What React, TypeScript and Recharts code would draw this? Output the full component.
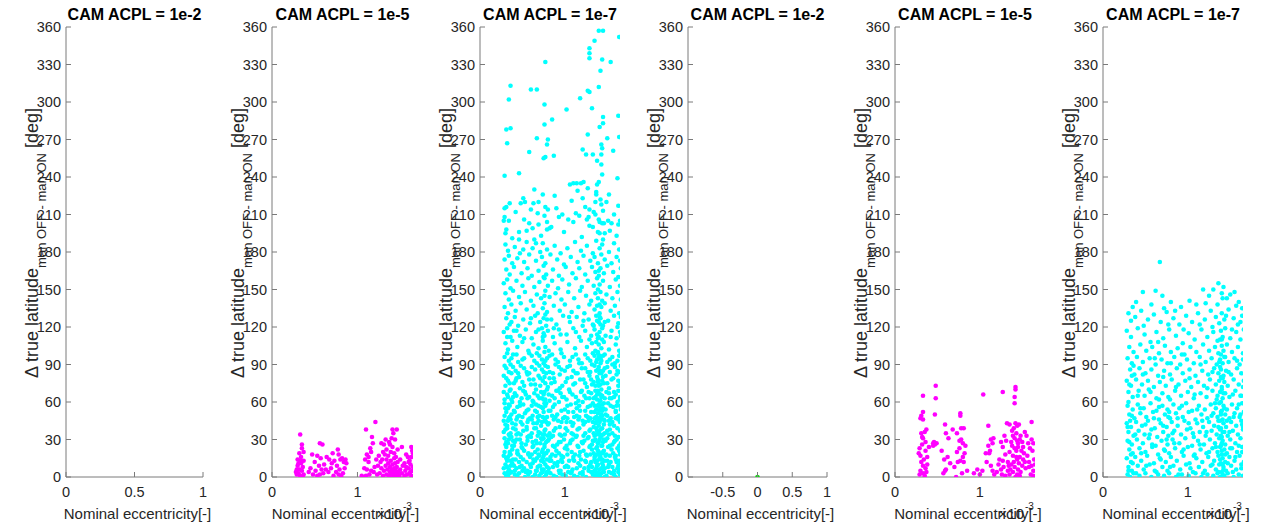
import React from "react";
import { ScatterChart, Scatter, XAxis, YAxis } from "recharts";

type Pt = [number, number];

// ---- labels / ticks ----
const titles = [
  "CAM ACPL = 1e-2",
  "CAM ACPL = 1e-5",
  "CAM ACPL = 1e-7",
  "CAM ACPL = 1e-2",
  "CAM ACPL = 1e-5",
  "CAM ACPL = 1e-7",
];
const yTicks = [0, 30, 60, 90, 120, 150, 180, 210, 240, 270, 300, 330, 360];
const ticksUnit = [0, 0.5, 1];
const ticksSym = [-0.5, 0, 0.5, 1];
const ticksEcc = [0, 1];

// ---- data: [nominal eccentricity x1e-3, delta true latitude deg] ----
const set1Acpl2: Pt[] = [];

const set1Acpl5: Pt[] = [
  [0.33,34],[0.35,26],[0.35,23],[0.37,20],[0.30,14],[0.33,13],[0.29,6],[0.32,6],[0.35,5],[0.31,3],[0.33,1],[0.37,2],[0.37,13],[0.34,11],[0.30,9],[0.29,2],[0.36,8],[0.31,11],[0.34,16],[0.28,4],[0.32,19],[0.36,1],
  [0.47,18],[0.51,5],[0.53,1],[0.56,2],[0.56,27],[0.59,26],[0.57,15],[0.61,10],[0.63,6],[0.60,3],[0.45,7],[0.48,2],[0.43,4],[0.55,9],[0.50,12],[0.58,6],[0.53,17],
  [0.67,14],[0.70,11],[0.66,4],[0.72,1],[0.75,4],[0.77,22],[0.78,18],[0.80,14],[0.82,15],[0.76,9],[0.79,6],[0.83,3],[0.85,7],[0.86,14],[0.87,11],[0.69,7],[0.73,13],[0.81,1],[0.84,12],[0.64,16],[0.78,2],[0.71,19],
  [1.07,0],[1.10,1],[1.10,38],[1.11,18],[1.09,14],[1.13,12],[1.15,23],[1.17,32],[1.16,20],[1.11,6],[1.16,5],[1.19,4],[1.21,44],[1.22,14],[1.24,9],[1.28,27],[1.31,26],[1.33,30],[1.37,28],[1.30,20],[1.32,18],[1.34,14],[1.41,38],[1.46,38],[1.42,35],[1.40,31],[1.44,30],[1.57,18],[1.59,16],[1.61,13],[1.63,16],[1.64,21],[1.63,24],[1.65,19],
  [1.26,3],[1.28,7],[1.30,1],[1.31,5],[1.33,9],[1.34,2],[1.35,6],[1.36,11],[1.37,1],[1.38,4],[1.38,8],[1.39,13],[1.40,2],[1.40,6],[1.41,10],[1.42,1],[1.42,4],[1.43,7],[1.43,15],[1.44,3],[1.44,11],[1.45,1],[1.45,5],[1.46,8],[1.47,2],[1.47,12],[1.48,4],[1.49,1],[1.50,6],[1.52,3],[1.53,9],[1.55,1],[1.56,5],[1.58,2],[1.60,7],[1.61,3],[1.62,10],[1.63,1],[1.64,5],[1.65,8],
  [1.36,17],[1.39,20],[1.41,24],[1.43,19],[1.38,26],[1.45,16],[1.34,22],[1.27,12],[1.23,2],[1.20,8],[1.14,2],[1.13,16],[1.18,27],[1.05,1],[1.08,7],[1.25,17],[1.29,14],[1.47,22],[1.50,14],[1.52,24],[1.55,11],[1.57,8],[1.60,12],[1.62,4],
];

const set1Acpl7: Pt[] = [
  // sparse upper part
  [1.40,357],[1.45,357],[1.64,352],[1.35,349],[1.29,343],[1.29,339],[1.29,335],[1.44,334],[0.77,332],[1.54,332],[1.42,325],[0.36,313],[0.60,310],[0.67,310],[1.27,309],[1.29,308],[1.40,312],[0.34,302],[1.18,303],[0.76,298],[1.02,294],[1.32,295],[1.45,288],[1.45,283],[1.41,280],[1.63,289],[0.31,278],[0.36,279],[0.32,267],[0.85,286],[0.76,282],[0.67,271],[0.80,270],[0.79,266],[1.27,274],[1.50,271],[1.64,272],[0.58,260],[1.21,262],[1.25,258],[1.33,258],[1.43,258],[1.44,263],[1.43,266],[0.75,255],[0.77,256],[0.87,257],[1.57,261],[1.38,253],[1.43,250],[0.29,241],[0.46,243],[1.44,242],[1.62,239],[1.06,234],[1.10,235],[1.14,235],[1.19,235],[1.40,236],[1.38,234],
  [0.29,215],[0.31,216],[0.35,219],[0.29,208],[0.28,205],[0.31,198],[0.51,223],[0.53,220],[0.48,219],[0.63,219],[0.69,220],[0.74,226],[0.77,216],[0.80,214],[0.68,211],[0.52,206],[0.58,203],[0.62,199],[0.69,202],[0.79,204],[0.82,199],[0.79,198],[0.46,196],[0.46,190],[0.51,182],[0.64,190],[0.66,187],
  [0.93,208],[0.97,210],[1.04,206],[1.08,221],[1.15,229],[1.13,211],[1.17,209],[1.21,223],[1.27,231],[1.37,228],[1.37,226],[1.36,220],[1.42,222],[1.43,218],[1.29,214],[1.28,208],[1.26,206],[1.29,201],[1.36,210],[1.40,206],[1.41,204],[1.44,203],[1.45,213],[1.46,203],[1.51,205],[1.55,203],[1.63,202],[1.47,195],[1.41,195],[1.53,197],[1.63,217],
  [0.30,195],[0.34,205],[0.38,191],[0.42,212],[0.55,197],[0.60,214],[0.72,193],[0.76,209],[0.84,200],[0.90,215],[0.99,196],[1.10,204],[1.20,192],[1.24,216],[1.33,200],[1.39,196],[1.45,190],[1.49,220],[1.58,210],[1.61,193],[1.65,205],[1.34,212],[0.64,230],[0.88,225],[1.22,236],[1.52,226],
  // middle part
  [0.30,186],[0.33,181],[0.41,184],[0.47,179],[0.55,188],[0.62,183],[0.71,180],[0.74,187],[0.79,182],[0.88,185],[0.95,179],[1.03,183],[1.12,188],[1.19,181],[1.26,185],[1.33,179],[1.37,189],[1.41,183],[1.44,186],[1.52,180],[1.58,187],[1.64,182],
  [0.29,174],[0.34,177],[0.38,171],[0.44,175],[0.52,172],[0.58,178],[0.66,173],[0.73,176],[0.77,171],[0.83,178],[0.91,174],[0.99,170],[1.07,176],[1.15,172],[1.22,177],[1.30,173],[1.35,176],[1.39,171],[1.43,178],[1.47,174],[1.55,171],[1.61,176],[1.65,173],
  [0.31,166],[0.35,162],[0.40,168],[0.49,163],[0.56,167],[0.61,161],[0.69,165],[0.75,169],[0.78,162],[0.86,166],[0.93,161],[1.01,168],[1.09,163],[1.17,167],[1.24,162],[1.32,168],[1.36,164],[1.40,161],[1.42,167],[1.46,163],[1.50,169],[1.57,164],[1.63,160],[1.66,167],
  [0.28,155],[0.32,158],[0.36,151],[0.43,157],[0.50,153],[0.57,159],[0.64,152],[0.70,156],[0.76,159],[0.80,153],[0.85,157],[0.92,151],[0.97,158],[1.05,154],[1.13,159],[1.20,152],[1.27,157],[1.34,153],[1.38,159],[1.41,154],[1.45,157],[1.53,152],[1.60,158],[1.65,153],
  [0.30,147],[0.34,142],[0.39,149],[0.46,144],[0.53,148],[0.60,141],[0.67,146],[0.72,143],[0.77,149],[0.82,144],[0.89,147],[0.96,142],[1.04,148],[1.11,143],[1.18,149],[1.25,145],[1.31,141],[1.36,147],[1.39,143],[1.42,148],[1.44,141],[1.49,146],[1.56,143],[1.62,148],[1.66,142],
  [0.29,136],[0.33,131],[0.37,138],[0.42,133],[0.48,139],[0.55,134],[0.63,137],[0.68,131],[0.74,135],[0.76,139],[0.79,132],[0.87,137],[0.94,133],[1.00,138],[1.08,132],[1.16,136],[1.23,131],[1.29,138],[1.35,134],[1.38,137],[1.41,131],[1.43,136],[1.47,139],[1.54,133],[1.59,137],[1.64,131],
  [0.31,127],[0.35,122],[0.41,128],[0.45,121],[0.51,126],[0.59,123],[0.65,129],[0.71,124],[0.75,127],[0.78,121],[0.84,126],[0.90,122],[0.98,129],[1.06,124],[1.14,128],[1.21,121],[1.28,126],[1.33,122],[1.37,129],[1.40,124],[1.42,127],[1.45,121],[1.51,125],[1.58,129],[1.63,123],[1.66,128],
  [0.28,116],[0.32,119],[0.36,112],[0.40,117],[0.47,113],[0.54,118],[0.61,111],[0.66,116],[0.73,119],[0.76,113],[0.80,117],[0.86,112],[0.93,118],[1.02,114],[1.10,119],[1.17,112],[1.24,117],[1.31,113],[1.35,118],[1.39,111],[1.41,116],[1.44,119],[1.48,113],[1.55,117],[1.61,111],[1.65,116],
  [0.30,107],[0.33,102],[0.38,109],[0.44,104],[0.50,108],[0.57,101],[0.63,106],[0.69,103],[0.74,109],[0.77,104],[0.81,101],[0.88,107],[0.95,102],[1.03,108],[1.12,103],[1.19,109],[1.26,104],[1.32,107],[1.36,101],[1.40,106],[1.43,103],[1.46,108],[1.52,102],[1.60,106],[1.64,101],
  [0.32,112],[0.37,124],[0.43,117],[0.52,111],[0.60,127],[0.69,118],[0.74,112],[0.79,126],[0.87,119],[0.95,114],[1.05,128],[1.13,116],[1.22,125],[1.29,110],[1.34,121],[1.38,114],[1.41,128],[1.44,110],[1.47,124],[1.54,112],[1.62,120],[1.66,113],
  // dense lower part
  [0.29,96],[0.34,93],[0.39,98],[0.45,92],[0.52,95],[0.58,99],[0.64,93],[0.70,97],[0.75,91],[0.79,95],[0.85,98],[0.92,92],[0.99,96],[1.06,93],[1.13,98],[1.20,91],[1.27,95],[1.33,99],[1.37,92],[1.40,96],[1.43,93],[1.47,98],[1.53,94],[1.59,91],[1.64,97],
  [0.32,99],[0.37,95],[0.43,98],[0.50,94],[0.61,97],[0.67,99],[0.73,94],[0.82,97],[0.89,94],[0.96,99],[1.09,96],[1.16,94],[1.24,98],[1.30,93],[1.35,97],[1.39,99],[1.42,95],[1.45,97],[1.50,92],[1.56,96],[1.62,93],[1.66,99],
  [0.31,87],[0.36,90],[0.42,85],[0.48,89],[0.55,84],[0.61,88],[0.67,91],[0.73,86],[0.77,89],[0.82,84],[0.89,90],[0.96,86],[1.03,88],[1.10,85],[1.17,91],[1.24,87],[1.30,84],[1.35,89],[1.39,86],[1.42,91],[1.45,85],[1.50,88],[1.56,90],[1.62,85],[1.66,89],
  [0.29,89],[0.34,84],[0.39,88],[0.45,83],[0.52,87],[0.58,83],[0.65,86],[0.70,89],[0.75,84],[0.80,88],[0.86,83],[0.93,88],[1.00,85],[1.06,89],[1.13,83],[1.20,87],[1.27,84],[1.32,90],[1.37,85],[1.40,88],[1.43,83],[1.47,87],[1.53,84],[1.59,88],[1.64,84],
  [0.28,81],[0.33,77],[0.37,83],[0.43,79],[0.50,76],[0.56,82],[0.63,78],[0.69,81],[0.74,77],[0.78,83],[0.87,79],[0.94,82],[1.01,76],[1.08,80],[1.15,83],[1.22,78],[1.29,81],[1.34,76],[1.38,80],[1.41,83],[1.44,77],[1.48,81],[1.55,78],[1.61,82],[1.65,76],
  [0.31,79],[0.35,75],[0.42,77],[0.46,80],[0.52,73],[0.58,78],[0.65,74],[0.71,79],[0.77,75],[0.82,79],[0.88,76],[0.94,71],[1.03,79],[1.10,74],[1.18,78],[1.24,75],[1.31,78],[1.36,73],[1.39,78],[1.42,74],[1.45,80],[1.50,75],[1.57,79],[1.63,77],
  [0.30,73],[0.35,69],[0.40,75],[0.47,71],[0.53,68],[0.60,74],[0.66,70],[0.71,73],[0.76,68],[0.80,72],[0.84,75],[0.90,69],[0.97,73],[1.05,70],[1.12,75],[1.19,68],[1.26,72],[1.32,74],[1.36,69],[1.40,73],[1.43,70],[1.46,75],[1.52,71],[1.58,68],[1.63,73],
  [0.28,68],[0.33,64],[0.36,70],[0.43,65],[0.51,69],[0.58,64],[0.64,67],[0.70,63],[0.75,66],[0.79,70],[0.85,65],[0.92,69],[0.99,64],[1.06,68],[1.13,64],[1.20,69],[1.25,63],[1.31,67],[1.36,64],[1.39,69],[1.42,66],[1.47,63],[1.52,67],[1.58,64],[1.63,69],
  [0.32,66],[0.37,62],[0.41,67],[0.49,63],[0.54,66],[0.62,61],[0.68,65],[0.72,68],[0.77,62],[0.81,66],[0.88,63],[0.95,67],[1.02,62],[1.09,66],[1.16,61],[1.23,65],[1.28,68],[1.34,63],[1.38,66],[1.41,61],[1.44,65],[1.49,68],[1.55,63],[1.60,66],[1.65,62],
  [0.29,59],[0.33,55],[0.38,60],[0.44,56],[0.51,58],[0.57,54],[0.63,60],[0.69,57],[0.74,55],[0.78,59],[0.86,56],[0.93,60],[1.00,54],[1.07,58],[1.14,55],[1.21,60],[1.27,56],[1.33,59],[1.37,54],[1.40,58],[1.42,61],[1.45,55],[1.51,59],[1.57,56],[1.62,60],[1.66,54],
  [0.30,55],[0.35,57],[0.41,52],[0.47,57],[0.55,53],[0.61,57],[0.67,52],[0.72,56],[0.76,59],[0.81,53],[0.88,58],[0.96,53],[1.03,57],[1.10,52],[1.17,57],[1.24,53],[1.30,57],[1.35,52],[1.38,57],[1.41,53],[1.44,58],[1.48,54],[1.54,57],[1.60,53],[1.65,57],
  [0.31,52],[0.35,48],[0.40,53],[0.46,49],[0.53,51],[0.59,47],[0.65,53],[0.70,49],[0.75,52],[0.79,48],[0.83,53],[0.91,50],[0.98,47],[1.04,52],[1.11,48],[1.18,53],[1.25,49],[1.31,52],[1.35,47],[1.39,51],[1.42,48],[1.44,53],[1.48,50],[1.54,47],[1.60,52],[1.64,49],
  [0.29,49],[0.33,45],[0.37,50],[0.43,46],[0.50,48],[0.56,44],[0.62,49],[0.69,45],[0.74,48],[0.78,44],[0.85,49],[0.92,45],[1.00,48],[1.07,44],[1.14,49],[1.21,45],[1.27,48],[1.33,44],[1.37,48],[1.40,45],[1.43,50],[1.46,46],[1.50,49],[1.56,44],[1.62,48],[1.66,45],
  [0.28,45],[0.32,41],[0.36,46],[0.42,42],[0.48,44],[0.55,40],[0.61,46],[0.67,43],[0.72,41],[0.76,45],[0.80,42],[0.87,46],[0.94,40],[1.02,44],[1.09,41],[1.16,46],[1.22,42],[1.28,45],[1.34,40],[1.37,44],[1.40,41],[1.43,46],[1.46,42],[1.52,45],[1.58,41],[1.63,46],
  [0.30,42],[0.34,47],[0.38,43],[0.44,48],[0.50,42],[0.57,46],[0.63,43],[0.68,48],[0.73,44],[0.77,47],[0.81,43],[0.89,48],[0.96,44],[1.03,47],[1.10,43],[1.17,48],[1.24,44],[1.30,47],[1.36,43],[1.39,47],[1.41,44],[1.44,49],[1.47,45],[1.53,42],[1.60,47],[1.65,44],
  [0.30,38],[0.34,34],[0.39,39],[0.45,35],[0.51,37],[0.58,33],[0.64,39],[0.69,36],[0.74,34],[0.77,38],[0.82,35],[0.89,39],[0.96,33],[1.03,37],[1.10,34],[1.17,39],[1.24,35],[1.30,38],[1.35,33],[1.38,37],[1.41,34],[1.44,39],[1.47,35],[1.53,38],[1.59,33],[1.65,37],
  [0.28,36],[0.32,39],[0.36,35],[0.42,38],[0.48,34],[0.55,38],[0.61,35],[0.66,39],[0.71,35],[0.76,37],[0.80,33],[0.87,37],[0.94,34],[1.01,39],[1.08,35],[1.15,38],[1.22,33],[1.29,37],[1.34,35],[1.37,39],[1.40,36],[1.42,38],[1.45,34],[1.50,37],[1.56,35],[1.62,39],
  [0.29,31],[0.33,27],[0.37,32],[0.41,28],[0.47,30],[0.54,26],[0.60,32],[0.66,29],[0.71,27],[0.75,31],[0.78,28],[0.84,32],[0.91,26],[0.99,30],[1.06,27],[1.13,32],[1.20,28],[1.27,31],[1.32,26],[1.36,30],[1.39,27],[1.42,32],[1.45,28],[1.50,31],[1.56,26],[1.61,30],[1.66,27],
  [0.31,28],[0.35,33],[0.39,29],[0.43,34],[0.49,27],[0.56,32],[0.62,28],[0.68,33],[0.73,30],[0.76,34],[0.80,29],[0.86,33],[0.93,28],[1.00,34],[1.07,29],[1.14,33],[1.21,27],[1.28,32],[1.33,29],[1.37,34],[1.40,28],[1.43,33],[1.46,30],[1.52,34],[1.58,28],[1.63,32],
  [0.30,26],[0.34,30],[0.38,25],[0.43,30],[0.49,24],[0.56,29],[0.62,24],[0.67,27],[0.72,31],[0.76,26],[0.81,30],[0.88,24],[0.95,28],[1.02,25],[1.09,30],[1.16,24],[1.23,29],[1.30,25],[1.35,29],[1.38,24],[1.41,30],[1.44,25],[1.48,29],[1.53,25],[1.59,29],[1.64,25],
  [0.31,24],[0.35,20],[0.40,25],[0.44,21],[0.50,23],[0.57,19],[0.63,25],[0.68,22],[0.73,20],[0.76,24],[0.80,21],[0.86,25],[0.93,19],[1.00,23],[1.08,20],[1.15,25],[1.22,21],[1.29,24],[1.34,19],[1.37,23],[1.40,20],[1.43,25],[1.46,21],[1.51,24],[1.57,19],[1.62,23],[1.65,20],
  [0.29,20],[0.33,16],[0.38,22],[0.45,18],[0.52,21],[0.59,16],[0.65,20],[0.70,17],[0.74,22],[0.77,19],[0.83,16],[0.90,21],[0.96,17],[1.03,22],[1.10,16],[1.18,20],[1.25,18],[1.32,22],[1.36,17],[1.39,21],[1.42,16],[1.45,20],[1.49,18],[1.55,22],[1.60,17],[1.64,21],
  [0.28,17],[0.32,13],[0.36,18],[0.42,14],[0.48,16],[0.55,12],[0.61,18],[0.67,15],[0.72,13],[0.75,17],[0.79,14],[0.85,18],[0.92,12],[0.98,16],[1.05,13],[1.12,18],[1.19,14],[1.26,17],[1.31,12],[1.35,16],[1.38,13],[1.41,18],[1.44,14],[1.48,17],[1.54,12],[1.59,16],[1.64,13],
  [0.31,15],[0.35,18],[0.39,14],[0.44,19],[0.51,14],[0.57,18],[0.63,14],[0.69,18],[0.74,15],[0.78,19],[0.82,13],[0.89,17],[0.96,14],[1.03,18],[1.10,14],[1.17,17],[1.24,13],[1.30,18],[1.35,14],[1.38,18],[1.41,15],[1.44,19],[1.47,13],[1.53,17],[1.60,14],[1.65,18],
  [0.32,8],[0.36,13],[0.40,9],[0.46,12],[0.52,7],[0.59,10],[0.65,13],[0.70,9],[0.75,12],[0.79,8],[0.84,13],[0.91,9],[0.97,12],[1.04,8],[1.11,13],[1.18,9],[1.25,12],[1.32,8],[1.36,12],[1.39,10],[1.42,14],[1.45,9],[1.50,13],[1.56,8],[1.61,12],[1.65,10],
  [0.30,10],[0.34,6],[0.38,11],[0.43,7],[0.49,9],[0.56,5],[0.62,11],[0.68,8],[0.73,6],[0.77,10],[0.81,7],[0.88,11],[0.95,5],[1.02,9],[1.09,6],[1.16,11],[1.23,7],[1.30,10],[1.35,5],[1.38,9],[1.41,6],[1.44,11],[1.47,7],[1.52,10],[1.58,5],[1.63,9],[1.66,6],
  [0.28,7],[0.33,4],[0.36,9],[0.41,5],[0.47,8],[0.54,4],[0.60,8],[0.66,5],[0.71,9],[0.75,6],[0.79,4],[0.86,8],[0.93,5],[1.00,8],[1.07,3],[1.14,7],[1.21,4],[1.28,8],[1.33,4],[1.37,7],[1.40,3],[1.43,7],[1.46,4],[1.51,8],[1.57,3],[1.62,7],[1.66,4],
  [0.29,3],[0.33,1],[0.37,4],[0.41,2],[0.46,3],[0.53,0],[0.59,4],[0.65,2],[0.70,1],[0.74,4],[0.78,2],[0.83,3],[0.90,0],[0.97,2],[1.04,4],[1.11,1],[1.18,3],[1.25,0],[1.31,4],[1.36,1],[1.39,3],[1.42,0],[1.45,4],[1.49,1],[1.55,3],[1.60,0],[1.65,2],
  [0.31,1],[0.35,3],[0.44,1],[0.50,5],[0.57,2],[0.62,0],[0.67,5],[0.72,3],[0.76,0],[0.81,4],[0.87,1],[0.94,3],[1.01,1],[1.08,4],[1.15,0],[1.21,2],[1.28,5],[1.33,2],[1.37,4],[1.40,1],[1.43,3],[1.47,0],[1.52,4],[1.58,2],[1.63,4],
  [0.29,62],[0.34,58],[0.39,64],[0.47,60],[0.56,63],[0.66,58],[0.73,63],[0.77,57],[0.82,61],[0.97,64],[1.13,59],[1.29,63],[1.35,57],[1.38,62],[1.41,56],[1.43,64],[1.46,59],[1.53,63],[1.61,57],[1.65,64],
  [1.39,100],[1.40,112],[1.38,125],[1.41,138],[1.39,150],[1.40,165],[1.38,94],[1.41,85],[1.39,76],[1.40,67],[1.42,122],[1.37,108],[1.41,97],
  [0.76,100],[0.75,115],[0.77,130],[0.76,145],[0.75,160],[0.77,93],[0.76,80],[0.75,62],
];

const set2Acpl2: Pt[] = [[0, 0]];

const set2Acpl5: Pt[] = [
  [0.48,73],[0.33,65],[1.04,66],[1.27,68],[1.42,72],[1.42,70],[0.48,63],[1.41,64],[0.33,52],[0.31,49],[0.30,47],[0.33,46],[0.47,50],[0.77,51],[0.77,49],[1.41,59],[1.61,44],[0.59,42],[0.37,38],[0.68,38],[0.78,39],[0.81,39],[1.10,41],[1.32,43],[1.35,42],[1.42,43],[1.44,41],[1.46,42],
  [0.31,35],[0.33,31],[0.36,28],[0.45,27],[0.49,27],[0.45,25],[0.60,35],[0.63,31],[0.73,35],[0.76,29],[0.80,27],[0.83,25],[0.82,19],[0.76,23],[0.74,12],[0.77,13],[0.28,19],[0.30,17],[0.36,21],[0.33,9],[0.36,7],[0.38,10],[0.30,5],[0.33,3],[0.35,1],[0.55,21],[0.58,14],[0.60,6],[0.57,3],[0.72,0],[0.85,5],[0.93,3],[1.03,5],
  [1.13,30],[1.15,27],[1.16,31],[1.07,19],[1.11,19],[1.08,12],[1.13,9],[1.15,5],[1.17,2],[1.25,28],[1.27,24],[1.29,33],[1.31,29],[1.23,14],[1.27,13],[1.28,8],[1.33,5],[1.35,2],[1.38,37],[1.39,33],[1.41,31],[1.44,29],[1.47,30],[1.50,28],[1.38,25],[1.41,23],[1.43,21],[1.45,24],[1.49,21],[1.39,17],[1.43,16],[1.47,16],[1.51,14],[1.37,10],[1.41,8],[1.45,6],[1.39,4],[1.44,2],[1.47,1],[1.42,0],[1.46,11],
  [1.53,36],[1.55,33],[1.57,27],[1.59,23],[1.61,30],[1.63,27],[1.62,21],[1.58,12],[1.61,9],[1.63,5],[1.60,2],[1.63,1],[1.53,12],[1.54,7],
  [0.29,23],[0.32,26],[0.34,14],[0.31,12],[0.29,2],[0.37,4],[0.40,24],[0.38,16],[0.46,28],[0.47,26],[0.35,36],[0.32,32],[0.59,5],[0.62,16],[0.65,11],[0.73,20],[0.78,30],[0.80,16],[0.81,12],[0.79,3],[0.70,8],[1.00,2],[0.97,6],
  [1.10,25],[1.12,21],[1.20,4],[1.22,10],[1.26,2],[1.30,18],[1.33,12],[1.35,20],[1.37,28],[1.40,39],[1.43,35],[1.45,27],[1.48,33],[1.51,24],[1.52,19],[1.56,17],[1.58,8],[1.64,14],[1.65,10],[1.40,12],[1.44,14],[1.36,6],[1.48,4],[1.50,9],[1.30,1],[1.34,9],[1.25,6],
];

const set2Acpl7: Pt[] = [
  [0.67,172],[0.47,148],[0.62,149],[0.35,136],[1.18,150],[1.30,150],[1.36,155],[1.42,152],[1.40,147],[1.50,146],[1.55,148],[1.25,145],[1.46,143],[1.60,140],[0.80,140],[1.10,138],[0.92,136],[0.72,135],[1.64,135],
  [0.30,131],[0.38,128],[0.45,133],[0.53,126],[0.60,130],[0.68,124],[0.75,132],[0.83,127],[0.90,122],[0.98,129],[1.05,124],[1.12,131],[1.20,126],[1.27,133],[1.33,128],[1.37,123],[1.40,131],[1.43,126],[1.48,134],[1.54,127],[1.59,122],[1.64,129],
  [0.33,125],[0.39,140],[0.48,121],[0.57,138],[0.65,108],[0.70,145],[0.77,122],[0.85,133],[0.95,118],[1.02,141],[1.14,122],[1.21,139],[1.29,120],[1.35,138],[1.38,110],[1.41,143],[1.45,129],[1.52,118],[1.57,137],[1.62,124],
  [0.28,117],[0.33,112],[0.41,119],[0.49,114],[0.56,108],[0.63,116],[0.71,111],[0.78,118],[0.86,113],[0.94,107],[1.01,115],[1.08,110],[1.16,118],[1.23,112],[1.30,116],[1.35,109],[1.39,117],[1.41,112],[1.44,119],[1.50,111],[1.57,116],[1.62,110],[1.66,118],
  [0.31,104],[0.36,100],[0.44,106],[0.51,101],[0.58,104],[0.66,99],[0.73,105],[0.80,100],[0.88,103],[0.96,98],[1.03,104],[1.10,100],[1.18,106],[1.25,101],[1.32,104],[1.36,99],[1.40,105],[1.42,101],[1.46,106],[1.52,100],[1.59,104],[1.65,99],
  [0.29,95],[0.34,91],[0.40,96],[0.47,92],[0.55,95],[0.62,90],[0.69,94],[0.76,91],[0.84,96],[0.91,90],[0.99,94],[1.07,91],[1.14,96],[1.21,92],[1.28,95],[1.34,90],[1.38,94],[1.41,91],[1.43,96],[1.48,92],[1.55,95],[1.61,90],[1.65,94],
  [0.32,86],[0.37,82],[0.43,87],[0.50,83],[0.57,86],[0.65,81],[0.72,85],[0.79,82],[0.87,87],[0.94,83],[1.02,86],[1.09,81],[1.17,85],[1.24,82],[1.31,87],[1.36,83],[1.39,86],[1.42,81],[1.45,85],[1.51,82],[1.58,87],[1.63,83],
  [0.31,74],[0.36,89],[0.41,65],[0.47,82],[0.54,70],[0.61,95],[0.66,62],[0.71,80],[0.80,91],[0.86,72],[0.93,98],[1.02,79],[1.08,66],[1.15,90],[1.23,71],[1.29,84],[1.34,62],[1.37,92],[1.39,80],[1.42,67],[1.44,96],[1.48,84],[1.53,66],[1.58,93],[1.65,72],
  [0.28,77],[0.33,73],[0.39,78],[0.46,74],[0.53,77],[0.60,72],[0.67,76],[0.74,73],[0.81,78],[0.89,74],[0.97,77],[1.04,72],[1.12,76],[1.19,73],[1.26,78],[1.33,74],[1.37,77],[1.40,72],[1.43,76],[1.47,73],[1.54,78],[1.60,74],[1.66,77],
  [0.30,68],[0.35,64],[0.42,69],[0.49,65],[0.56,68],[0.63,63],[0.70,67],[0.77,64],[0.85,69],[0.92,65],[1.00,68],[1.07,63],[1.15,67],[1.22,64],[1.29,69],[1.35,65],[1.38,68],[1.41,63],[1.44,67],[1.49,64],[1.56,69],[1.62,65],
  [0.29,57],[0.35,54],[0.41,58],[0.48,55],[0.56,59],[0.63,53],[0.70,57],[0.76,54],[0.83,58],[0.90,55],[0.98,59],[1.05,53],[1.13,57],[1.20,54],[1.27,58],[1.33,55],[1.37,59],[1.40,53],[1.42,57],[1.46,54],[1.52,58],[1.58,55],[1.64,59],
  [0.29,40],[0.34,49],[0.38,34],[0.44,55],[0.50,42],[0.55,34],[0.60,47],[0.66,56],[0.71,41],[0.78,52],[0.82,35],[0.88,47],[0.93,57],[1.01,43],[1.06,35],[1.11,54],[1.17,45],[1.22,36],[1.28,49],[1.32,59],[1.36,40],[1.39,50],[1.41,36],[1.43,55],[1.46,45],[1.49,36],[1.54,48],[1.60,58],[1.64,42],
  [0.31,50],[0.37,47],[0.44,51],[0.51,48],[0.59,52],[0.66,46],[0.73,50],[0.79,47],[0.86,51],[0.94,48],[1.01,52],[1.09,46],[1.16,50],[1.23,47],[1.30,51],[1.35,48],[1.39,52],[1.41,46],[1.44,50],[1.49,47],[1.55,51],[1.61,48],[1.66,52],
  [0.28,43],[0.33,40],[0.39,44],[0.46,41],[0.53,45],[0.61,39],[0.68,43],[0.75,40],[0.81,44],[0.88,41],[0.96,45],[1.03,39],[1.11,43],[1.18,40],[1.25,44],[1.31,41],[1.36,45],[1.39,39],[1.42,43],[1.45,40],[1.51,44],[1.57,41],[1.63,45],
  [0.30,36],[0.36,33],[0.42,37],[0.49,34],[0.57,38],[0.64,32],[0.71,36],[0.77,33],[0.84,37],[0.92,34],[0.99,38],[1.07,32],[1.14,36],[1.21,33],[1.28,37],[1.34,34],[1.38,38],[1.40,32],[1.43,36],[1.47,33],[1.53,37],[1.59,34],[1.65,38],
  [0.29,29],[0.34,26],[0.40,30],[0.47,27],[0.54,31],[0.62,25],[0.69,29],[0.76,26],[0.82,30],[0.90,27],[0.97,31],[1.05,25],[1.12,29],[1.19,26],[1.26,30],[1.32,27],[1.37,31],[1.39,25],[1.41,29],[1.44,26],[1.50,30],[1.56,27],[1.62,31],
  [0.30,5],[0.35,11],[0.39,3],[0.45,19],[0.51,9],[0.58,26],[0.61,5],[0.68,14],[0.73,21],[0.79,8],[0.84,27],[0.89,2],[0.95,22],[1.03,7],[1.07,17],[1.14,26],[1.18,3],[1.25,20],[1.29,10],[1.33,24],[1.36,4],[1.38,14],[1.40,27],[1.42,6],[1.44,18],[1.47,11],[1.50,23],[1.53,4],[1.56,16],[1.60,25],[1.63,7],[1.66,20],
  [0.31,22],[0.35,19],[0.43,23],[0.50,20],[0.58,24],[0.65,18],[0.72,22],[0.78,19],[0.85,23],[0.93,20],[1.00,24],[1.08,18],[1.15,22],[1.22,19],[1.29,23],[1.35,20],[1.38,24],[1.40,18],[1.43,22],[1.46,19],[1.52,23],[1.58,20],[1.64,24],
  [0.28,15],[0.33,12],[0.38,16],[0.45,13],[0.52,17],[0.60,11],[0.67,15],[0.74,12],[0.80,16],[0.87,13],[0.95,17],[1.02,11],[1.10,15],[1.17,12],[1.24,16],[1.31,13],[1.36,17],[1.39,11],[1.41,15],[1.44,12],[1.49,16],[1.55,13],[1.61,17],[1.66,12],
  [0.30,8],[0.34,5],[0.41,9],[0.48,6],[0.55,10],[0.63,4],[0.70,8],[0.76,5],[0.83,9],[0.91,6],[0.98,10],[1.06,4],[1.13,8],[1.20,5],[1.27,9],[1.33,6],[1.37,10],[1.40,4],[1.42,8],[1.45,5],[1.51,9],[1.57,6],[1.63,10],
  [0.29,2],[0.32,0],[0.36,3],[0.43,1],[0.50,3],[0.57,0],[0.65,2],[0.72,1],[0.78,3],[0.86,0],[0.93,2],[1.01,1],[1.09,3],[1.16,0],[1.23,2],[1.30,1],[1.35,3],[1.38,0],[1.41,2],[1.43,1],[1.47,3],[1.54,0],[1.60,2],[1.65,1],
  [1.38,45],[1.39,33],[1.40,21],[1.41,10],[1.39,60],[1.40,70],[1.38,88],[1.41,79],[1.39,98],[1.40,110],[0.32,45],[0.31,28],[0.33,18],[0.30,60],[0.34,81],[1.62,50],[1.64,20],[1.63,65],[1.65,40],[0.75,30],[0.77,48],[0.79,62],
];

// ---- styling ----
const FONT = "'Liberation Sans', Arial, Helvetica, sans-serif";
const TEXT = "#262626";
const AXIS = "#7a7a7a";
const CYAN = "#00ffff";
const MAGENTA = "#ff00ff";
const GREEN = "#11dd11";

const PLOT_TOP = 27;
const CHART_H = 526;
const PAD_L = 60;
const PAD_R = 6;

const panels = [
  { left: 66, width: 137, domain: [0, 1], ticks: ticksUnit, data: set1Acpl2, color: MAGENTA, exp: false },
  { left: 272, width: 141, domain: [0, 1.65], ticks: ticksEcc, data: set1Acpl5, color: MAGENTA, exp: true },
  { left: 480, width: 140, domain: [0, 1.65], ticks: ticksEcc, data: set1Acpl7, color: CYAN, exp: true },
  { left: 688, width: 139, domain: [-1, 1], ticks: ticksSym, data: set2Acpl2, color: GREEN, exp: false },
  { left: 895, width: 140, domain: [0, 1.65], ticks: ticksEcc, data: set2Acpl5, color: MAGENTA, exp: true },
  { left: 1103, width: 140, domain: [0, 1.65], ticks: ticksEcc, data: set2Acpl7, color: CYAN, exp: true },
];

function YTick(props: any) {
  const { x, y, payload } = props;
  return (
    <g>
      <line x1={x} x2={x + 5} y1={y} y2={y} stroke={AXIS} />
      <text x={x - 5} y={y + 5} textAnchor="end" fontSize={14.5} fill={TEXT} fontFamily={FONT}>
        {payload.value}
      </text>
    </g>
  );
}

function XTick(props: any) {
  const { x, y, payload } = props;
  return (
    <g>
      <line x1={x} x2={x} y1={y} y2={y - 5} stroke={AXIS} />
      <text x={x} y={y + 20} textAnchor="middle" fontSize={14.5} fill={TEXT} fontFamily={FONT}>
        {payload.value}
      </text>
    </g>
  );
}

function Panel({ p }: { p: (typeof panels)[number] }) {
  const data = p.data.map(([x, y]) => ({ x, y }));
  return (
    <div style={{ position: "absolute", left: p.left - PAD_L, top: 0 }}>
      <ScatterChart
        width={PAD_L + p.width + PAD_R}
        height={CHART_H}
        margin={{ top: PLOT_TOP, right: PAD_R, bottom: 19, left: 20 }}
      >
        <XAxis
          type="number"
          dataKey="x"
          domain={p.domain}
          ticks={p.ticks}
          interval={0}
          height={30}
          tickSize={0}
          tickMargin={0}
          allowDataOverflow
          axisLine={{ stroke: AXIS, strokeWidth: 1 }}
          tickLine={false}
          tick={<XTick />}
        />
        <YAxis
          type="number"
          dataKey="y"
          domain={[0, 360]}
          ticks={yTicks}
          interval={0}
          width={40}
          tickSize={0}
          tickMargin={0}
          allowDataOverflow
          axisLine={{ stroke: AXIS, strokeWidth: 1 }}
          tickLine={false}
          tick={<YTick />}
        />
        <Scatter
          data={data}
          isAnimationActive={false}
          shape={(s: any) => <circle cx={s.cx} cy={s.cy} r={2.3} fill={p.color} />}
        />
      </ScatterChart>
    </div>
  );
}

export default function App() {
  return (
    <div style={{ position: "absolute", left: 0, top: 0, width: 1266, height: 526, background: "#fff" }}>
      {panels.map((p, i) => (
        <Panel key={i} p={p} />
      ))}
      <svg
        width={1266}
        height={526}
        style={{ position: "absolute", left: 0, top: 0, pointerEvents: "none" }}
        fontFamily={FONT}
      >
        {panels.map((p, i) => {
          const cx = p.left + p.width / 2;
          const lx = p.left - 28;
          const ly = 243;
          return (
            <g key={i}>
              <text x={cx} y={20} textAnchor="middle" fontSize={16} fontWeight="bold" fill="#000">
                {titles[i]}
              </text>
              <text x={cx + 3} y={519} textAnchor="middle" fontSize={15} fill={TEXT}>
                Nominal eccentricity[-]
              </text>
              {p.exp && (
                <g fill={TEXT}>
                  <text x={p.left + p.width - 11} y={519} textAnchor="end" fontSize={15}>
                    ×10
                  </text>
                  <text x={p.left + p.width - 10} y={510} fontSize={10}>
                    -3
                  </text>
                </g>
              )}
              <text
                x={lx}
                y={ly}
                textAnchor="middle"
                fill={TEXT}
                transform={`rotate(-90 ${lx} ${ly})`}
                fontSize={18}
              >
                Δ true latitude
                <tspan dy={8} fontSize={13}>man OFF - man ON</tspan>
                <tspan dy={-8} fontSize={18}> [deg]</tspan>
              </text>
            </g>
          );
        })}
      </svg>
    </div>
  );
}
